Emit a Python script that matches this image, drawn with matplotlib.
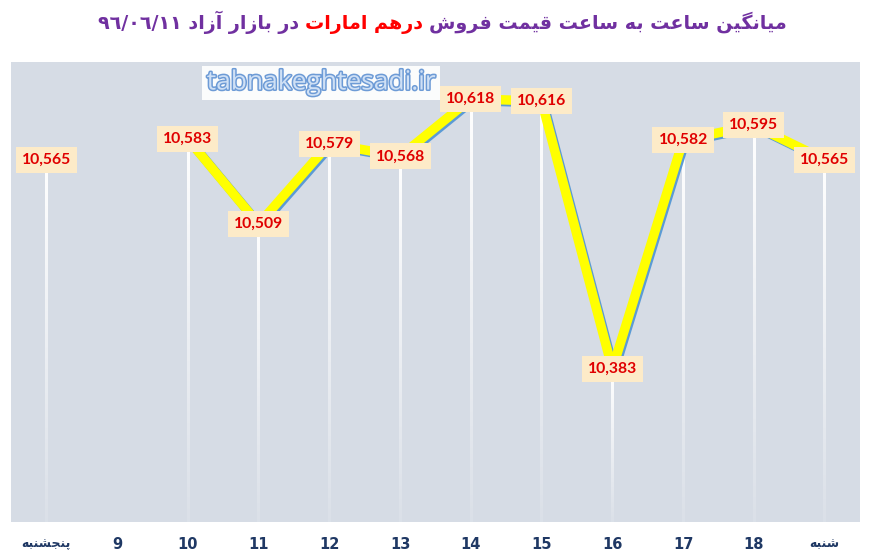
import matplotlib
matplotlib.use("Agg")
import matplotlib.pyplot as plt
import matplotlib.patheffects as pe
import numpy as np

# ---------------- data ----------------
categories = ["پنجشنبه", "9", "10", "11", "12", "13", "14", "15", "16", "17", "18", "شنبه"]
prices = [10565, None, 10583, 10509, 10579, 10568, 10618, 10616, 10383, 10582, 10595, 10565]
title_right = "میانگین ساعت به ساعت قیمت فروش"
title_mid = "درهم امارات"
title_left = "در بازار آزاد"
title_date = "\u0669\u0666/\u0660\u0666/\u0661\u0661"
watermark = "tabnakeghtesadi.ir"

# ---------------- minimal Arabic/Persian shaper ----------------
# forms: (isolated, final, initial, medial); right-joining letters have only 2
FORMS = {
    '\u0627': (0xFE8D, 0xFE8E), '\u0622': (0xFE81, 0xFE82),
    '\u0628': (0xFE8F, 0xFE90, 0xFE91, 0xFE92), '\u062A': (0xFE95, 0xFE96, 0xFE97, 0xFE98),
    '\u062B': (0xFE99, 0xFE9A, 0xFE9B, 0xFE9C), '\u062C': (0xFE9D, 0xFE9E, 0xFE9F, 0xFEA0),
    '\u062D': (0xFEA1, 0xFEA2, 0xFEA3, 0xFEA4), '\u062E': (0xFEA5, 0xFEA6, 0xFEA7, 0xFEA8),
    '\u062F': (0xFEA9, 0xFEAA), '\u0630': (0xFEAB, 0xFEAC), '\u0631': (0xFEAD, 0xFEAE),
    '\u0632': (0xFEAF, 0xFEB0), '\u0698': (0xFB8A, 0xFB8B),
    '\u0633': (0xFEB1, 0xFEB2, 0xFEB3, 0xFEB4), '\u0634': (0xFEB5, 0xFEB6, 0xFEB7, 0xFEB8),
    '\u0635': (0xFEB9, 0xFEBA, 0xFEBB, 0xFEBC), '\u0636': (0xFEBD, 0xFEBE, 0xFEBF, 0xFEC0),
    '\u0637': (0xFEC1, 0xFEC2, 0xFEC3, 0xFEC4), '\u0638': (0xFEC5, 0xFEC6, 0xFEC7, 0xFEC8),
    '\u0639': (0xFEC9, 0xFECA, 0xFECB, 0xFECC), '\u063A': (0xFECD, 0xFECE, 0xFECF, 0xFED0),
    '\u0641': (0xFED1, 0xFED2, 0xFED3, 0xFED4), '\u0642': (0xFED5, 0xFED6, 0xFED7, 0xFED8),
    '\u0644': (0xFEDD, 0xFEDE, 0xFEDF, 0xFEE0), '\u0645': (0xFEE1, 0xFEE2, 0xFEE3, 0xFEE4),
    '\u0646': (0xFEE5, 0xFEE6, 0xFEE7, 0xFEE8), '\u0647': (0xFEE9, 0xFEEA, 0xFEEB, 0xFEEC),
    '\u0648': (0xFEED, 0xFEEE), '\u064A': (0xFEF1, 0xFEF2, 0xFEF3, 0xFEF4),
    '\u067E': (0xFB56, 0xFB57, 0xFB58, 0xFB59), '\u0686': (0xFB7A, 0xFB7B, 0xFB7C, 0xFB7D),
    '\u06A9': (0xFB8E, 0xFB8F, 0xFB90, 0xFB91), '\u06AF': (0xFB92, 0xFB93, 0xFB94, 0xFB95),
    '\u06CC': (0xFBFC, 0xFBFD, 0xFBFE, 0xFBFF),
}


def shape_word(w):
    out = []
    n = len(w)
    for i, c in enumerate(w):
        f = FORMS.get(c)
        if f is None:
            out.append(c)
            continue
        prev = w[i - 1] if i > 0 else None
        nxt = w[i + 1] if i < n - 1 else None
        jp = prev is not None and prev in FORMS and len(FORMS[prev]) == 4
        jn = len(f) == 4 and nxt is not None and nxt in FORMS
        if jp and jn:
            out.append(chr(f[3]))
        elif jp:
            out.append(chr(f[1]))
        elif jn:
            out.append(chr(f[2]))
        else:
            out.append(chr(f[0]))
    return "".join(out[::-1])


def rtl(s):
    return " ".join(shape_word(w) for w in s.split(" ")[::-1])


# ---------------- figure ----------------
W, H = 869, 557
fig = plt.figure(figsize=(W / 100, H / 100), dpi=100)
fig.patch.set_facecolor("white")
ax = fig.add_axes([11 / W, 1 - 522 / H, (860 - 11) / W, (522 - 62) / H])
ax.set_facecolor("#d6dce5")
for s in ax.spines.values():
    s.set_visible(False)

x = np.arange(len(categories))
ymin, ymax = 10250, 10650
ax.set_xticks(x)
ax.set_xticklabels([rtl(c) if not c.isdigit() else c for c in categories],
                   family=["DejaVu Sans"], fontweight="bold",
                   fontsize=10.5, color="#1f3864")
ax.tick_params(axis="x", length=0, pad=11)
ax.set_yticks([])
for lab in ax.get_xticklabels():
    if not lab.get_text().isdigit():
        lab.set_fontsize(9)

# drop lines with fading white gradient (vertical gradient images)
grad = np.zeros((100, 1, 4))
grad[..., :3] = 1.0
grad[:, 0, 3] = np.linspace(1.0, 0.12, 100)
half_w = 1.25 / ((860 - 11) / len(categories))
for xi, v in zip(x, prices):
    if v is None:
        continue
    ax.imshow(grad, extent=(xi - half_w, xi + half_w, ymin, v), origin="upper",
              aspect="auto", interpolation="bilinear", zorder=2)

# main line with blue shadow (gap where value missing)
yv = np.array([np.nan if v is None else v for v in prices], dtype=float)
ax.plot(x, yv, color="#ffff00", lw=6.8, zorder=3, solid_capstyle="butt",
        path_effects=[pe.SimpleLineShadow(offset=(1.3, -1.3), shadow_color="#5b9bd5", alpha=1.0),
                      pe.Normal()])

# data labels
for xi, v in zip(x, prices):
    if v is None:
        continue
    ax.text(xi, v, f"{v:,}", ha="center", va="center", fontsize=11.3, fontweight="bold",
            family=["Lato", "DejaVu Sans"], color="#e00000", zorder=5,
            bbox=dict(boxstyle="square,pad=0.38", fc="#fdebc8", ec="none"))

ax.set_xlim(-0.5, len(categories) - 0.5)
ax.set_ylim(ymin, ymax)

# watermark
wm = fig.text(321 / W, 1 - 83 / H, watermark, ha="center", va="center", fontsize=19,
              family=["Open Sans", "DejaVu Sans"], color="#cfe0f5", zorder=10,
              path_effects=[pe.withStroke(linewidth=2.2, foreground="#6d9bd6")],
              bbox=dict(boxstyle="square,pad=0.18", fc="white", ec="none", alpha=0.92))

# title (multi-coloured RTL)
fig.canvas.draw()
renderer = fig.canvas.get_renderer()
purple = "#7030a0"
red = "#ff0000"
tfont = dict(fontsize=13.8, fontweight="bold", family="DejaVu Sans")
parts = [(rtl(title_right), purple), (rtl(title_mid), red),
         (title_date + " " + rtl(title_left), purple)]
ybase = 1 - 29 / H
cur = 787
sp = 6
for txt, col in parts:
    t = fig.text(cur / W, ybase, txt, ha="right", va="baseline", color=col, **tfont)
    bb = t.get_window_extent(renderer)
    cur = bb.x0 - sp

fig.savefig("out.png", dpi=100, facecolor=fig.get_facecolor())
